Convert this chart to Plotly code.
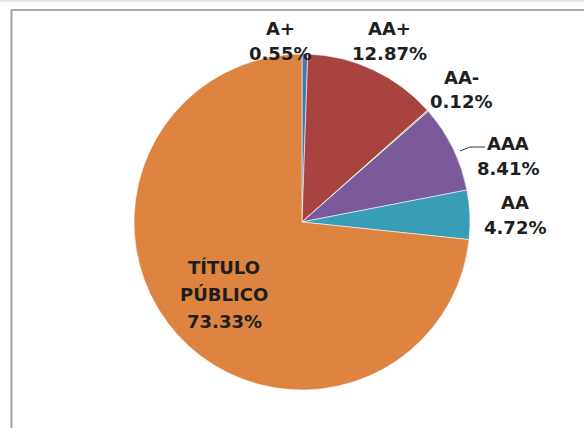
import plotly.graph_objects as go

# Portfolio breakdown by credit rating
labels = ["A+", "AA+", "AA-", "AAA", "AA", "TÍTULO PÚBLICO"]
shares = [0.55, 12.87, 0.12, 8.41, 4.72, 73.33]
colors = ["#4a76b2", "#a8433f", "#98b954", "#7a5a9b", "#3a9db7", "#dc8440"]

W, H = 584, 428

# label anchor (x, y of first line centre) and line spacing, in pixels
label_pos = [
    (280, 28, 25),
    (389, 28, 25),
    (461, 78, 23),
    (508, 143, 26),
    (515, 202, 26),
    (224, 267, 27),
]


def px(x, y):
    return x / W, 1 - y / H


cx, cy, r = 302, 222, 168
x0, y1 = px(cx - r, cy - r)
x1, y0 = px(cx + r, cy + r)

fig = go.Figure(
    go.Pie(
        labels=labels,
        values=shares,
        sort=False,
        direction="clockwise",
        rotation=0,
        marker=dict(colors=colors, line=dict(color="rgba(255,255,255,0.7)", width=0.8)),
        textinfo="none",
        hoverinfo="label+percent",
        showlegend=False,
        domain=dict(x=[x0, x1], y=[y0, y1]),
    )
)

font = dict(family="DejaVu Sans", size=18, color="#1e1e1e")
annotations = []
for lab, val, (x, y, dy) in zip(labels, shares, label_pos):
    lines = lab.split(" ") + [f"{val:.2f}%"]
    for i, line in enumerate(lines):
        ax, ay = px(x, y + i * dy)
        annotations.append(dict(
            x=ax, y=ay, xref="paper", yref="paper", text=f"<b>{line}</b>",
            showarrow=False, font=font, xanchor="center", yanchor="middle",
        ))

shapes = []
# leader line for AAA
p1, p2, p3 = px(460, 151), px(470, 147), px(485, 147)
shapes.append(dict(
    type="path", xref="paper", yref="paper",
    path=f"M {p1[0]} {p1[1]} L {p2[0]} {p2[1]} L {p3[0]} {p3[1]}",
    line=dict(color="#333333", width=1),
))
# chart frame (top and left edges)
a, b = px(11, 10), px(W, 10)
shapes.append(dict(type="line", xref="paper", yref="paper",
                   x0=a[0], y0=a[1], x1=b[0], y1=b[1],
                   line=dict(color="#a8a8a8", width=2)))
a, b = px(11.5, 10), px(11.5, H)
shapes.append(dict(type="line", xref="paper", yref="paper",
                   x0=a[0], y0=a[1], x1=b[0], y1=b[1],
                   line=dict(color="#a0a0a0", width=2)))
a, b = px(0, 1), px(W, 1)
shapes.append(dict(type="line", xref="paper", yref="paper",
                   x0=a[0], y0=a[1], x1=b[0], y1=b[1],
                   line=dict(color="#e4e4e4", width=2)))

fig.update_layout(
    width=W, height=H,
    margin=dict(l=0, r=0, t=0, b=0),
    paper_bgcolor="white",
    plot_bgcolor="white",
    annotations=annotations,
    shapes=shapes,
)

fig.write_html("out.html")
